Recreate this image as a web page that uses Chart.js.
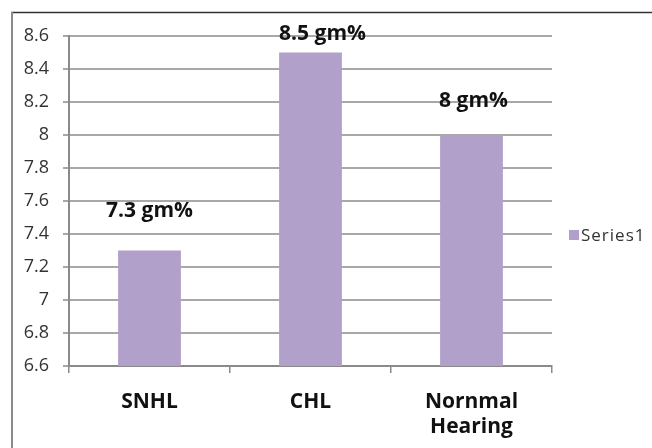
<!DOCTYPE html>
<html>
<head>
<meta charset="utf-8">
<script src="https://cdn.jsdelivr.net/npm/chart.js@4/dist/chart.umd.min.js"></script>
<style>
  html, body { margin: 0; padding: 0; background: #ffffff; }
  canvas { display: block; }
</style>
</head>
<body>
<canvas id="c" width="652" height="448"></canvas>
<script>
const categories = ["SNHL", "CHL", ["Nornmal", "Hearing"]];
const seriesName = "Series1";
const values = [7.3, 8.5, 8.0];
const valueLabels = ["7.3 gm%", "8.5 gm%", "8 gm%"];
const yTicks = [6.6, 6.8, 7, 7.2, 7.4, 7.6, 7.8, 8, 8.2, 8.4, 8.6];
const yTickLabels = ["6.6", "6.8", "7", "7.2", "7.4", "7.6", "7.8", "8", "8.2", "8.4", "8.6"];

const FONT = "'Open Sans', 'DejaVu Sans', sans-serif";
const BAR = "#B1A0C9";
const GRID = "#A8A8A8";

const framePlugin = {
  id: 'frame',
  beforeDraw(chart) {
    const ctx = chart.ctx;
    ctx.save();
    ctx.fillStyle = '#ffffff';
    ctx.fillRect(0, 0, chart.width, chart.height);
    ctx.strokeStyle = '#333333';
    ctx.lineWidth = 1.5;
    ctx.beginPath();
    ctx.moveTo(11, 12.5);
    ctx.lineTo(chart.width, 12.5);
    ctx.stroke();
    ctx.strokeStyle = '#8a8a8a';
    ctx.lineWidth = 2;
    ctx.beginPath();
    ctx.moveTo(12, 12);
    ctx.lineTo(12, chart.height);
    ctx.stroke();
    ctx.restore();
  }
};

const valueLabelPlugin = {
  id: 'valueLabels',
  afterDatasetsDraw(chart, args, opts) {
    const ctx = chart.ctx;
    const meta = chart.getDatasetMeta(0);
    ctx.save();
    ctx.font = "bold 21px " + FONT;
    ctx.fillStyle = '#111111';
    ctx.textAlign = 'center';
    ctx.textBaseline = 'middle';
    meta.data.forEach((bar, i) => {
      const dx = opts.dx[i] || 0;
      const dy = opts.dy[i] || 0;
      ctx.fillText(valueLabels[i], bar.x + dx, bar.y - dy);
    });
    ctx.restore();
  }
};

const legendPlugin = {
  id: 'sideLegend',
  afterDraw(chart, args, opts) {
    const ctx = chart.ctx;
    const ds = chart.data.datasets[0];
    ctx.save();
    ctx.fillStyle = ds.backgroundColor;
    ctx.fillRect(opts.x, opts.y - 5, 10, 10);
    ctx.font = "17px " + FONT;
    ctx.fillStyle = '#333333';
    ctx.textAlign = 'left';
    ctx.textBaseline = 'middle';
    if ('letterSpacing' in ctx) ctx.letterSpacing = '1px';
    ctx.fillText(ds.label, opts.x + 12, opts.y + 1);
    ctx.restore();
  }
};

new Chart(document.getElementById('c'), {
  type: 'bar',
  data: {
    labels: categories,
    datasets: [{
      label: seriesName,
      data: values,
      backgroundColor: BAR,
      borderWidth: 0,
      categoryPercentage: 1.0,
      barPercentage: 0.39
    }]
  },
  plugins: [framePlugin, valueLabelPlugin, legendPlugin],
  options: {
    responsive: false,
    devicePixelRatio: 1,
    animation: false,
    layout: { padding: { top: 36, right: 100, left: 0, bottom: 0 } },
    plugins: {
      legend: { display: false },
      tooltip: { enabled: false },
      valueLabels: { dx: [0, 12, 2], dy: [39, 18, 34] },
      sideLegend: { x: 569, y: 235 }
    },
    scales: {
      x: {
        offset: true,
        grid: {
          display: true,
          offset: true,
          drawOnChartArea: false,
          drawTicks: true,
          tickLength: 7,
          color: '#8a8a8a',
          lineWidth: 1.5
        },
        border: { display: true, color: '#8a8a8a', width: 2 },
        ticks: {
          color: '#111111',
          font: { family: FONT, size: 21, weight: 'bold', lineHeight: 1.2 },
          padding: 16,
          maxRotation: 0,
          autoSkip: false
        },
        afterFit(scale) { scale.height = 82; }
      },
      y: {
        min: 6.6,
        max: 8.6,
        afterBuildTicks(scale) {
          scale.ticks = yTicks.map(v => ({ value: v }));
        },
        grid: {
          color: GRID,
          lineWidth: 2,
          tickLength: 6,
          drawTicks: true
        },
        border: { display: true, color: '#8a8a8a', width: 2 },
        ticks: {
          color: '#333333',
          font: { family: FONT, size: 18 },
          padding: 14,
          callback(value, index) { return yTickLabels[index]; }
        },
        afterFit(scale) { scale.width = 69; }
      }
    }
  }
});
</script>
</body>
</html>
